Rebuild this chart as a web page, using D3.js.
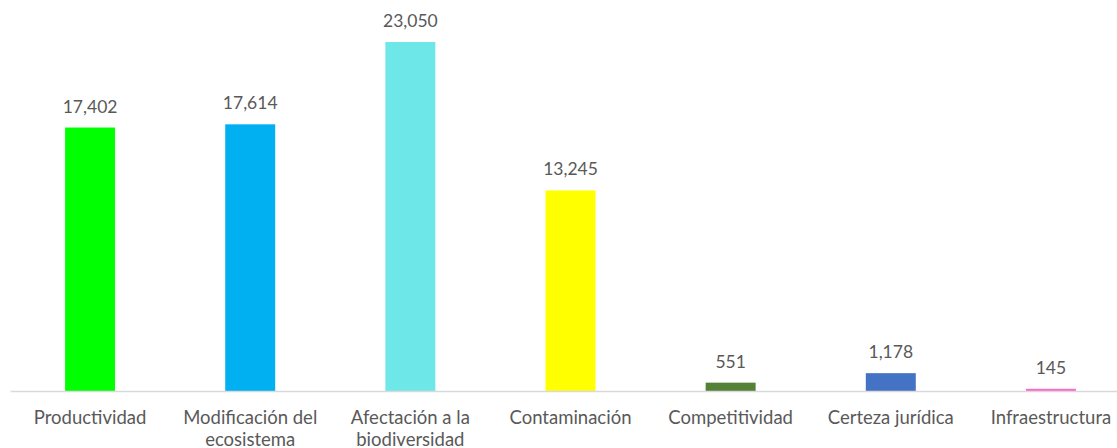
<!DOCTYPE html>
<html>
<head>
<meta charset="utf-8">
<script src="https://cdn.jsdelivr.net/npm/d3@7"></script>
<style>
  html, body { margin: 0; padding: 0; background: #ffffff; overflow: hidden; }
  svg { display: block; }
  text { font-family: Lato, "Open Sans", sans-serif; fill: #595959; }
</style>
</head>
<body>
<svg id="chart" width="1117" height="448"></svg>
<script>
// Categories and their counts
const categories = [
  "Productividad",
  "Modificación del ecosistema",
  "Afectación a la biodiversidad",
  "Contaminación",
  "Competitividad",
  "Certeza jurídica",
  "Infraestructura"
];
const values = [17402, 17614, 23050, 13245, 551, 1178, 145];
const barColors = ["#00FF00", "#00B0F0", "#6EE7E8", "#FFFF00", "#538135", "#4472C4", "#FF66CC"];

const svg = d3.select("#chart");
const baseY = 391;

const x = d3.scaleBand()
  .domain(categories)
  .range([10, 1131])
  .paddingInner(0.688)
  .paddingOuter(0.344);

const y = d3.scaleLinear()
  .domain([0, 25000])
  .range([baseY, 12.5]);

const fmt = d3.format(",");

// Bars
svg.append("g")
  .selectAll("rect")
  .data(categories)
  .join("rect")
  .attr("x", d => x(d))
  .attr("width", x.bandwidth())
  .attr("y", (d, i) => y(values[i]))
  .attr("height", (d, i) => y(0) - y(values[i]))
  .attr("fill", (d, i) => barColors[i]);

// Category axis (line only, no ticks)
const axis = svg.append("g")
  .attr("transform", `translate(0,${baseY})`)
  .call(d3.axisBottom(x).tickSize(0).tickPadding(0));
axis.select(".domain").attr("stroke", "#d9d9d9").attr("stroke-width", 1.3);
axis.selectAll(".tick text").remove();

// Category labels, wrapped to the band step
const maxW = 150;
const labels = svg.append("g")
  .selectAll("text")
  .data(categories)
  .join("text")
  .attr("x", d => x(d) + x.bandwidth() / 2)
  .attr("y", 424)
  .attr("text-anchor", "middle")
  .style("font-size", "18.5px");

labels.each(function(d) {
  const t = d3.select(this);
  const words = d.split(" ");
  let line = [];
  let tspan = t.append("tspan").attr("x", t.attr("x")).attr("dy", 0);
  words.forEach(w => {
    line.push(w);
    tspan.text(line.join(" "));
    if (tspan.node().getComputedTextLength() > maxW && line.length > 1) {
      line.pop();
      tspan.text(line.join(" "));
      line = [w];
      tspan = t.append("tspan").attr("x", t.attr("x")).attr("dy", "22").text(w);
    }
  });
});

// Value labels
svg.append("g")
  .selectAll("text")
  .data(categories)
  .join("text")
  .attr("x", d => x(d) + x.bandwidth() / 2)
  .attr("y", (d, i) => y(values[i]) - 15)
  .attr("text-anchor", "middle")
  .style("font-size", "17.5px")
  .text((d, i) => fmt(values[i]));
</script>
</body>
</html>
